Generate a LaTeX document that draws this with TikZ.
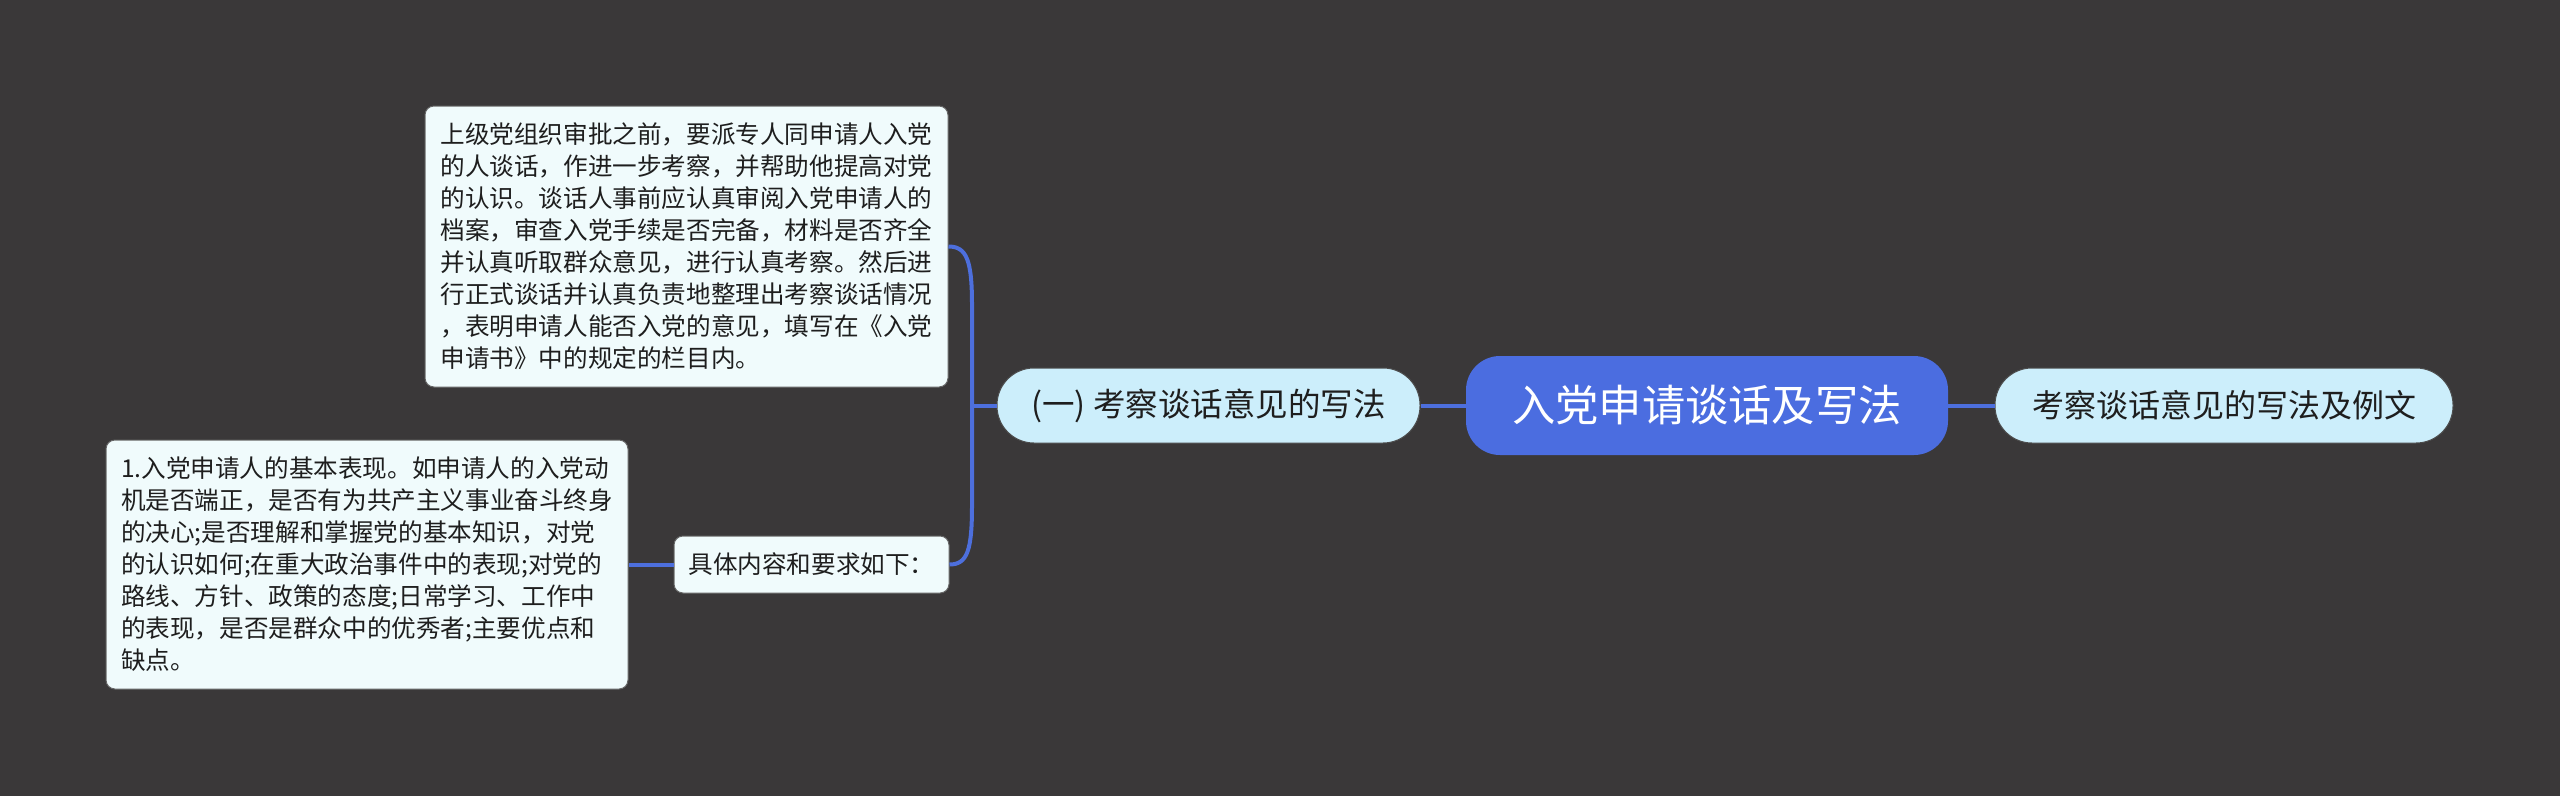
\documentclass[tikz,border=0pt]{standalone}
\usepackage{fontspec}
\setmainfont{Noto Sans CJK SC}
\definecolor{bgc}{HTML}{3A3839}
\definecolor{rootc}{HTML}{4B6DE0}
\definecolor{lonec}{HTML}{CCEEFB}
\definecolor{leafc}{HTML}{F0FBFC}
\definecolor{connc}{HTML}{4D6FDD}
\definecolor{txtc}{HTML}{1E1E1E}
\tikzset{
  rootbox/.style={fill=rootc, rounded corners=34pt, minimum width=482pt, minimum height=99pt, inner sep=0pt, text=white, font=\fontsize{43.3pt}{50pt}\selectfont},
  onebox/.style={fill=lonec, draw=black!70, line width=1pt, rounded corners=37pt, minimum height=75pt, inner sep=0pt, text=txtc},
  leafbox/.style={fill=leafc, draw=black!60, line width=1pt, rounded corners=9pt, inner sep=0pt, align=left, text=txtc, font=\fontsize{24.6pt}{32pt}\selectfont},
  conn/.style={draw=connc, line width=4pt}
}
\begin{document}
\begin{tikzpicture}[x=1pt, y=-1pt]
\fill[bgc] (0,0) rectangle (2560,796);
\useasboundingbox (0,0) rectangle (2560,796);

\node[rootbox] (root) at (1707,405.5) {入党申请谈话及写法};
\node[onebox, minimum width=423pt, font=\fontsize{32.5pt}{38pt}\selectfont] (one) at (1208.5,405.5) {(一) 考察谈话意见的写法};
\node[onebox, minimum width=458pt, font=\fontsize{32pt}{38pt}\selectfont] (right) at (2224,405.5) {考察谈话意见的写法及例文};

\node[leafbox, minimum width=523pt, minimum height=281pt] (top) at (686.5,246.5) {上级党组织审批之前，要派专人同申请人入党\\的人谈话，作进一步考察，并帮助他提高对党\\的认识。谈话人事前应认真审阅入党申请人的\\档案，审查入党手续是否完备，材料是否齐全\\并认真听取群众意见，进行认真考察。然后进\\行正式谈话并认真负责地整理出考察谈话情况\\，表明申请人能否入党的意见，填写在《入党\\申请书》中的规定的栏目内。};

\node[leafbox, minimum width=275pt, minimum height=57pt, align=center] (req) at (811.5,564.5) {具体内容和要求如下：};

\node[leafbox, minimum width=522pt, minimum height=249pt] (detail) at (367,564.5) {1.入党申请人的基本表现。如申请人的入党动\\机是否端正，是否有为共产主义事业奋斗终身\\的决心;是否理解和掌握党的基本知识，对党\\的认识如何;在重大政治事件中的表现;对党的\\路线、方针、政策的态度;日常学习、工作中\\的表现，是否是群众中的优秀者;主要优点和\\缺点。};

\coordinate (j) at (972,405.5);
\draw[conn] (root.west) -- (one.east);
\draw[conn] (root.east) -- (right.west);
\draw[conn] (one.west) -- (j);
\draw[conn] (top.east) .. controls +(18,0) and +(0,-45) .. (972,305) -- (972,505) .. controls +(0,45) and +(18,0) .. (req.east);
\draw[conn] (req.west) -- (detail.east);
\end{tikzpicture}
\end{document}
